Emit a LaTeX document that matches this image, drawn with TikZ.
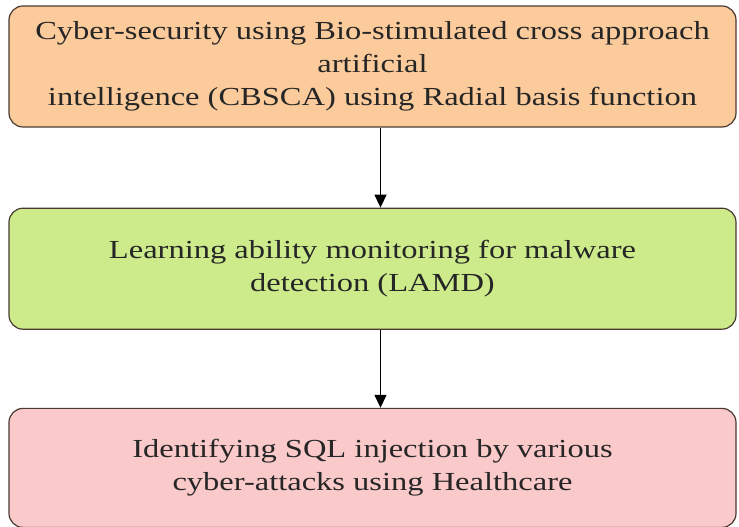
\documentclass[tikz,border=0pt]{standalone}
\usepackage{fontspec}
\setmainfont[FakeStretch=1.25]{Liberation Serif}
\usetikzlibrary{positioning}
\usetikzlibrary{arrows.meta}
\definecolor{boxorange}{HTML}{FCCB9C}
\definecolor{boxgreen}{HTML}{CDEB8B}
\definecolor{boxpink}{HTML}{FAC9C9}
\definecolor{boxline}{HTML}{4A3A32}
\tikzset{
    stagebox/.style={draw=boxline, line width=1.2pt, rounded corners=14pt,
        minimum width=727pt, minimum height=121pt, align=center,
        font=\fontsize{26}{33}\selectfont, text=black!85},
    flow/.style={-{Triangle[length=13pt,width=12pt]}, line width=1.4pt}
}

\begin{document}
\begin{tikzpicture}[x=1pt,y=1pt]
            \useasboundingbox (0,0) rectangle (739,527);
            \node (cbsca) [stagebox, fill=boxorange] at (372.5,460.5)
                {Cyber-security using Bio-stimulated cross approach\\artificial\\intelligence (CBSCA) using Radial basis function};
            \node (lamd)  [stagebox, fill=boxgreen, below=80pt of cbsca]
                {Learning ability monitoring for malware\\detection (LAMD)};
            \node (sqli)  [stagebox, fill=boxpink, minimum height=119pt, below=78pt of lamd]
                {Identifying SQL injection by various\\cyber-attacks using Healthcare};

            \draw[flow] ([xshift=8pt]cbsca.south) -- ([xshift=8pt]lamd.north);
            \draw[flow] ([xshift=8pt]lamd.south) -- ([xshift=8pt]sqli.north);
        \end{tikzpicture}
\end{document}
